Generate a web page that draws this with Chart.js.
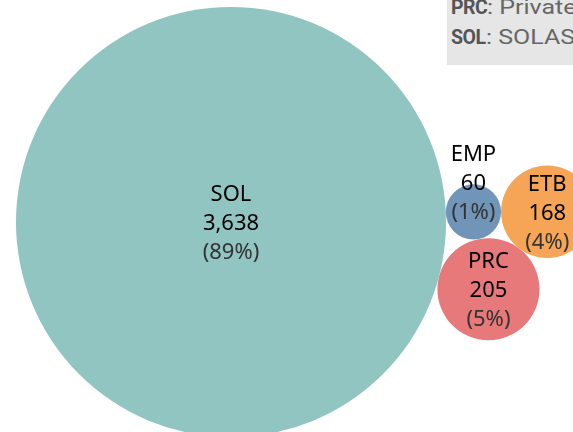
<!DOCTYPE html>
<html>
<head>
<meta charset="utf-8">
<script src="https://cdn.jsdelivr.net/npm/chart.js@4/dist/chart.umd.min.js"></script>
<style>
    html, body { margin: 0; padding: 0; background: #fff; overflow: hidden; }
    #wrap { position: relative; width: 573px; height: 432px; }
    #legend {
        position: absolute; left: 447px; top: 0; width: 200px; height: 65px;
        background: #e6e6e6; font-family: Roboto, sans-serif; font-size: 19.5px;
        color: #666; white-space: nowrap; overflow: hidden;
    }
    #legend .lines { position: absolute; left: 4px; top: -7px; line-height: 30px; }
    #legend b { color: #555; font-weight: 700; letter-spacing: -0.5px; }
    #legend span { display: inline-block; transform: scaleX(1.28); transform-origin: left center; }
</style>
</head>
<body>
<div id="wrap">
    <canvas id="bubbleChart"></canvas>
    <div id="legend"><div class="lines">
        <div><b>PRC</b><span>: Private Companies</span></div>
        <div><b>SOL</b><span>: SOLAS</span></div>
    </div></div>
</div>
<script>
const categories = ['SOL', 'EMP', 'PRC', 'ETB'];
const counts = [3638, 60, 205, 168];
const shares = ['89%', '1%', '5%', '4%'];

const colors = ['#91c5c1', '#7194b9', '#e7797a', '#f5a555'];

// pack layout: radius grows with sqrt(count), each circle touches its neighbours
const pxPerUnit = 3.565;
const radii = counts.map(v => pxPerUnit * Math.sqrt(v));

function touching(a, ra, b, rb, r, side) {
    const dx = b.x - a.x, dy = b.y - a.y;
    const D = Math.hypot(dx, dy);
    const d1 = ra + r, d2 = rb + r;
    const along = (d1 * d1 - d2 * d2 + D * D) / (2 * D);
    const h = Math.sqrt(Math.max(0, d1 * d1 - along * along));
    return {
        x: a.x + along * dx / D + side * h * (-dy / D),
        y: a.y + along * dy / D + side * h * (dx / D)
    };
}

const anchor = { x: 231, y: 222 };
const tilt = 2.37 * Math.PI / 180;
const centers = [];
centers[0] = anchor;
centers[1] = {
    x: anchor.x + (radii[0] + radii[1]) * Math.cos(tilt),
    y: anchor.y - (radii[0] + radii[1]) * Math.sin(tilt)
};
centers[2] = touching(centers[0], radii[0], centers[1], radii[1], radii[2], 1);
centers[3] = touching(centers[1], radii[1], centers[2], radii[2], radii[3], -1);

const labelPlugin = {
    id: 'bubbleLabels',
    afterDatasetsDraw(chart) {
        const ctx = chart.ctx;
        const meta = chart.getDatasetMeta(0);
        ctx.save();
        ctx.textAlign = 'center';
        ctx.textBaseline = 'alphabetic';
        meta.data.forEach((pt, i) => {
            // small bubbles get their label pushed up above the circle
            const shift = radii[i] < 35 ? -30 : 0;
            const lines = [categories[i], counts[i].toLocaleString('en-US'), '(' + shares[i] + ')'];
            const offs = [-21, 8, 37];
            lines.forEach((t, j) => {
                ctx.font = '400 22px "Noto Sans"';
                ctx.fillStyle = j === 2 ? '#333' : '#000';
                ctx.fillText(t, pt.x, pt.y + offs[j] + shift);
            });
        });
        ctx.restore();
    }
};

new Chart(document.getElementById('bubbleChart'), {
    type: 'bubble',
    data: {
        datasets: [{
            data: categories.map((c, i) => ({ x: centers[i].x, y: centers[i].y, r: radii[i] })),
            backgroundColor: colors,
            hoverBackgroundColor: colors,
            borderWidth: 0,
            hoverBorderWidth: 0,
            clip: false
        }]
    },
    options: {
        responsive: true,
        maintainAspectRatio: false,
        animation: false,
        layout: { padding: 0, autoPadding: false },
        plugins: { legend: { display: false }, tooltip: { enabled: false } },
        scales: {
            x: { type: 'linear', min: 0, max: 573, display: false },
            y: { type: 'linear', min: 0, max: 432, reverse: true, display: false }
        }
    },
    plugins: [labelPlugin]
});
</script>
</body>
</html>
